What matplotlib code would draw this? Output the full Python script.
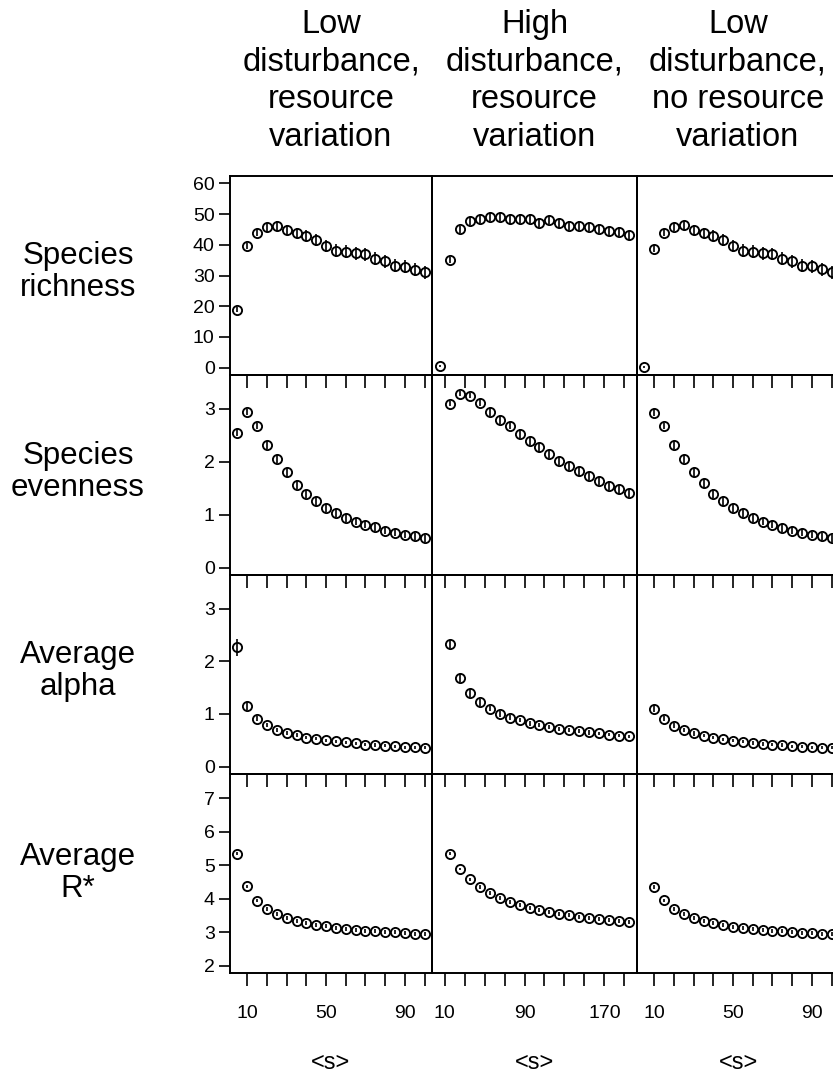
import numpy as np
import matplotlib
matplotlib.use("Agg")
import matplotlib.pyplot as plt

plt.rcParams['font.family'] = ['Liberation Sans', 'DejaVu Sans']

# ---------------- data ----------------
x_low = [5, 10, 15, 20, 25, 30, 35, 40, 45, 50, 55, 60, 65, 70, 75, 80, 85, 90, 95, 100]
x_high = [5, 15, 25, 35, 45, 55, 65, 75, 85, 95, 105, 115, 125, 135, 145, 155, 165, 175, 185, 195]

col_titles = ["Low\ndisturbance,\nresource\nvariation",
              "High\ndisturbance,\nresource\nvariation",
              "Low\ndisturbance,\nno resource\nvariation"]
row_labels = ["Species\nrichness", "Species\nevenness", "Average\nalpha", "Average\nR*"]
x_axis_label = "<s>"

nan = float('nan')

# Species richness
rich_c1 = [18.9, 39.6, 44.0, 45.7, 46.1, 44.8, 43.8, 42.9, 41.5, 39.7, 38.1, 37.7, 37.3, 36.9, 35.4, 34.6, 33.2, 32.9, 31.9, 31.0]
rich_c2 = [0.6, 35.0, 45.0, 47.6, 48.5, 49.2, 49.1, 48.3, 48.5, 48.5, 47.2, 48.1, 47.0, 46.2, 46.2, 45.9, 45.3, 44.4, 44.3, 43.1]
rich_c3 = [0.2, 38.7, 44.0, 45.8, 46.3, 44.8, 43.8, 42.9, 41.6, 39.7, 38.1, 37.7, 37.3, 37.0, 35.4, 34.6, 33.2, 33.0, 32.1, 31.0]
rich_e1 = [0.9, 1.1, 1.2, 1.4, 1.5, 1.6, 1.7, 1.8, 1.9, 2.0, 2.0, 2.1, 2.1, 2.1, 2.1, 2.1, 2.1, 2.1, 2.1, 2.1]
rich_e2 = [0.3, 1.0, 1.2, 1.3, 1.3, 1.3, 1.3, 1.4, 1.4, 1.4, 1.4, 1.4, 1.4, 1.4, 1.4, 1.4, 1.4, 1.4, 1.4, 1.4]
rich_e3 = [0.3, 1.1, 1.2, 1.4, 1.5, 1.6, 1.7, 1.8, 1.9, 2.0, 2.0, 2.1, 2.1, 2.1, 2.1, 2.1, 2.1, 2.1, 2.1, 2.1]

# Species evenness
even_c1 = [2.55, 2.94, 2.67, 2.32, 2.05, 1.80, 1.57, 1.39, 1.25, 1.13, 1.03, 0.94, 0.87, 0.81, 0.76, 0.70, 0.66, 0.62, 0.59, 0.55]
even_c2 = [nan, 3.10, 3.29, 3.25, 3.12, 2.94, 2.79, 2.68, 2.53, 2.39, 2.27, 2.15, 2.01, 1.92, 1.82, 1.73, 1.64, 1.55, 1.48, 1.41]
even_c3 = [nan, 2.93, 2.68, 2.32, 2.05, 1.80, 1.59, 1.40, 1.25, 1.13, 1.03, 0.94, 0.87, 0.81, 0.75, 0.70, 0.66, 0.62, 0.59, 0.55]
even_e1 = [0.07, 0.06, 0.06, 0.07, 0.08, 0.08, 0.08, 0.08, 0.08, 0.08, 0.07, 0.07, 0.07, 0.07, 0.07, 0.06, 0.06, 0.06, 0.06, 0.06]
even_e2 = [nan, 0.05, 0.04, 0.05, 0.06, 0.07, 0.07, 0.07, 0.08, 0.08, 0.08, 0.08, 0.08, 0.08, 0.08, 0.08, 0.08, 0.08, 0.08, 0.08]
even_e3 = [nan, 0.06, 0.06, 0.07, 0.08, 0.08, 0.08, 0.08, 0.08, 0.08, 0.07, 0.07, 0.07, 0.07, 0.07, 0.06, 0.06, 0.06, 0.06, 0.06]

# Average alpha
alpha_c1 = [2.27, 1.15, 0.91, 0.79, 0.70, 0.64, 0.60, 0.55, 0.53, 0.50, 0.48, 0.46, 0.44, 0.42, 0.41, 0.40, 0.39, 0.37, 0.37, 0.36]
alpha_c2 = [nan, 2.33, 1.68, 1.40, 1.22, 1.10, 1.00, 0.93, 0.88, 0.82, 0.79, 0.75, 0.72, 0.69, 0.67, 0.65, 0.63, 0.61, 0.59, 0.58]
alpha_c3 = [nan, 1.10, 0.91, 0.78, 0.70, 0.63, 0.59, 0.55, 0.52, 0.49, 0.47, 0.45, 0.43, 0.42, 0.41, 0.39, 0.38, 0.37, 0.36, 0.36]
alpha_e1 = [0.16, 0.07, 0.05, 0.04, 0.04, 0.04, 0.03, 0.03, 0.03, 0.03, 0.03, 0.03, 0.03, 0.03, 0.03, 0.03, 0.03, 0.03, 0.03, 0.03]
alpha_e2 = [nan, 0.08, 0.07, 0.07, 0.06, 0.05, 0.05, 0.05, 0.04, 0.04, 0.04, 0.04, 0.04, 0.04, 0.04, 0.04, 0.03, 0.03, 0.03, 0.03]
alpha_e3 = [nan, 0.07, 0.05, 0.04, 0.04, 0.04, 0.03, 0.03, 0.03, 0.03, 0.03, 0.03, 0.03, 0.03, 0.03, 0.03, 0.03, 0.03, 0.03, 0.03]

# Average R*
rstar_c1 = [5.34, 4.37, 3.94, 3.70, 3.53, 3.41, 3.34, 3.26, 3.21, 3.17, 3.13, 3.10, 3.07, 3.04, 3.02, 3.00, 2.99, 2.97, 2.95, 2.94]
rstar_c2 = [nan, 5.34, 4.88, 4.58, 4.35, 4.17, 4.03, 3.91, 3.81, 3.73, 3.66, 3.60, 3.54, 3.50, 3.46, 3.42, 3.38, 3.35, 3.32, 3.29]
rstar_c3 = [nan, 4.35, 3.95, 3.70, 3.53, 3.42, 3.33, 3.26, 3.21, 3.16, 3.12, 3.09, 3.06, 3.04, 3.02, 3.00, 2.98, 2.97, 2.95, 2.94]
rstar_e1 = [0.05, 0.05, 0.05, 0.06, 0.06, 0.06, 0.06, 0.06, 0.06, 0.06, 0.06, 0.06, 0.06, 0.06, 0.06, 0.06, 0.06, 0.06, 0.06, 0.06]
rstar_e2 = [nan, 0.04, 0.04, 0.05, 0.05, 0.06, 0.06, 0.06, 0.06, 0.06, 0.06, 0.06, 0.06, 0.06, 0.06, 0.06, 0.06, 0.06, 0.06, 0.06]
rstar_e3 = [nan, 0.05, 0.05, 0.06, 0.06, 0.06, 0.06, 0.06, 0.06, 0.06, 0.06, 0.06, 0.06, 0.06, 0.06, 0.06, 0.06, 0.06, 0.06, 0.06]

values = [[rich_c1, rich_c2, rich_c3],
          [even_c1, even_c2, even_c3],
          [alpha_c1, alpha_c2, alpha_c3],
          [rstar_c1, rstar_c2, rstar_c3]]
errors = [[rich_e1, rich_e2, rich_e3],
          [even_e1, even_e2, even_e3],
          [alpha_e1, alpha_e2, alpha_e3],
          [rstar_e1, rstar_e2, rstar_e3]]
col_x = [x_low, x_high, x_low]

y_limits = [(0, 60), (0, 3.5), (0, 3.5), (2, 7.5)]
y_ticks = [[0, 10, 20, 30, 40, 50, 60], [0, 1, 2, 3], [0, 1, 2, 3], [2, 3, 4, 5, 6, 7]]
x_limits = [(5, 100), (5, 195), (5, 100)]
x_ticks = [[10, 20, 30, 40, 50, 60, 70, 80, 90, 100],
           [10, 30, 50, 70, 90, 110, 130, 150, 170, 190],
           [10, 20, 30, 40, 50, 60, 70, 80, 90, 100]]
x_ticklabels = [["10", "", "", "", "50", "", "", "", "90", ""],
                ["10", "", "", "", "90", "", "", "", "170", ""],
                ["10", "", "", "", "50", "", "", "", "90", ""]]

# ---------------- layout ----------------
W, H = 833, 1078
fig = plt.figure(figsize=(W / 100, H / 100), dpi=100)
col_edges = [(230, 432), (432, 637), (637, 839)]
row_edges = [(176, 375), (375, 575), (575, 774), (774, 973)]

def r_lim(lo, hi):
    d = (hi - lo) * 0.04
    return lo - d, hi + d

for r in range(4):
    for c in range(3):
        x0, x1 = col_edges[c]
        y0, y1 = row_edges[r]
        ax = fig.add_axes([x0 / W, 1 - y1 / H, (x1 - x0) / W, (y1 - y0) / H])
        ax.set_facecolor('none')
        ax.errorbar(col_x[c], values[r][c], yerr=errors[r][c], fmt='o',
                    mfc='none', mec='black', ms=6.6, mew=1.35,
                    ecolor='black', elinewidth=1.2, capsize=0, zorder=3)
        ax.set_xlim(*r_lim(*x_limits[c]))
        ax.set_ylim(*r_lim(*y_limits[r]))
        for s in ax.spines.values():
            s.set_linewidth(1.4)
        ax.set_xticks(x_ticks[c])
        ax.set_yticks(y_ticks[r])
        if c == 0:
            ax.tick_params(axis='y', direction='out', length=8, width=1.2,
                           labelsize=14, pad=3, left=True, labelleft=True)
        else:
            ax.tick_params(axis='y', left=False, labelleft=False)
        top_on = r > 0
        bottom_on = r == 3
        ax.tick_params(axis='x', which='both', top=top_on, bottom=bottom_on,
                       labelbottom=bottom_on, labeltop=False, length=9.4, width=1.2)
        ax.tick_params(axis='x', direction='out', labelsize=14, pad=14)
        if top_on:
            # top ticks pointing into the panel
            for tk in ax.xaxis.get_major_ticks():
                tk.tick2line.set_marker(matplotlib.lines.TICKDOWN)
        if bottom_on:
            ax.set_xticklabels(x_ticklabels[c])
        else:
            ax.set_xticklabels([])

# column titles
for c in range(3):
    x0, x1 = col_edges[c]
    fig.text(((x0 + x1) / 2) / W, 1 - 81 / H, col_titles[c], ha='center', va='center',
             fontsize=23.5, linespacing=1.29)
    fig.text(((x0 + x1) / 2) / W, 1 - 1063 / H, x_axis_label, ha='center', va='center',
             fontsize=17)

# row labels
row_label_y = [272, 472, 671, 873]
for r in range(4):
    fig.text(78 / W, 1 - row_label_y[r] / H, row_labels[r], ha='center', va='center',
             fontsize=22.5, linespacing=1.12)

fig.savefig("out.png", dpi=100)
